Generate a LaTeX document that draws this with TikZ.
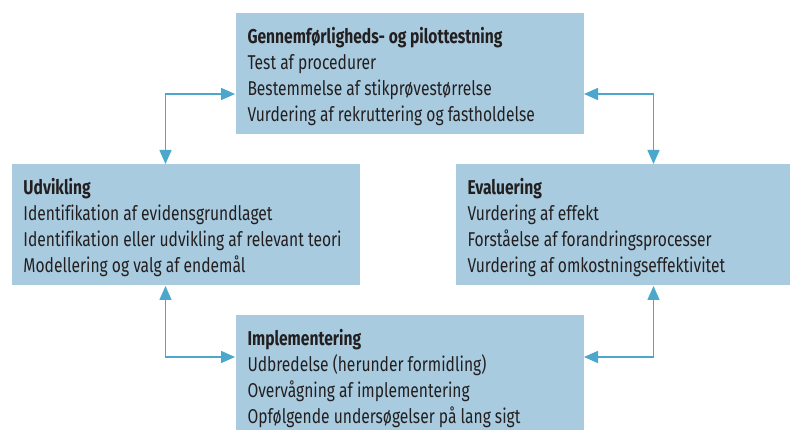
\documentclass[tikz,border=0pt]{standalone}
\usepackage{fontspec}
\setmainfont{Fira Sans}[FakeStretch=0.78, Ligatures=NoCommon]
\usetikzlibrary{arrows.meta}

\definecolor{boxblue}{RGB}{168,203,223}
\definecolor{linkblue}{RGB}{75,168,204}
\definecolor{inkgray}{RGB}{35,31,32}

\tikzset{every picture/.style={line width=0.75pt}}
\tikzset{
  phase/.style={fill=boxblue, draw=none, anchor=north west, inner sep=0pt,
    minimum width=261pt, minimum height=90.75pt},
  phasetext/.style={anchor=north west, align=left, inner sep=0pt, text=inkgray,
    font=\fontsize{15}{19.5}\selectfont},
  link/.style={draw=linkblue, line width=1.1pt, {Triangle[length=10.5pt,width=9pt]}-{Triangle[length=10.5pt,width=9pt]}}
}

\begin{document}
\begin{tikzpicture}[x=0.75pt,y=0.75pt]
\clip (0,0) rectangle (790,429);

% the four phases
\node[phase] (pil) at (235,416) {};
\node[phase] (udv) at (11,265) {};
\node[phase] (eva) at (455,265) {};
\node[phase] (imp) at (235,114) {};

% Text Nodes
\node[phasetext] (piltxt) at (247,402) {\textbf{Gennemførligheds- og pilottestning}\\Test af procedurer\\Bestemmelse af stikprøvestørrelse\\Vurdering af rekruttering og fastholdelse};
\node[phasetext] (udvtxt) at (23,251) {\textbf{Udvikling}\\Identifikation af evidensgrundlaget\\Identifikation eller udvikling af relevant teori\\Modellering og valg af endemål};
\node[phasetext] (evatxt) at (467,251) {\textbf{Evaluering}\\Vurdering af effekt\\Forståelse af forandringsprocesser\\Vurdering af omkostningseffektivitet};
\node[phasetext] (imptxt) at (247,100) {\textbf{Implementering}\\Udbredelse (herunder formidling)\\Overvågning af implementering\\Opfølgende undersøgelser på lang sigt};

% two-way links between the phases
\draw[link] ([yshift=-15pt]pil.west) -| ([xshift=-15pt]udv.north);
\draw[link] ([yshift=-15pt]pil.east) -| ([xshift=18pt]eva.north);
\draw[link] ([xshift=-15pt]udv.south) |- ([yshift=14.25pt]imp.west);
\draw[link] ([xshift=18pt]eva.south) |- ([yshift=14.25pt]imp.east);

\end{tikzpicture}
\end{document}
